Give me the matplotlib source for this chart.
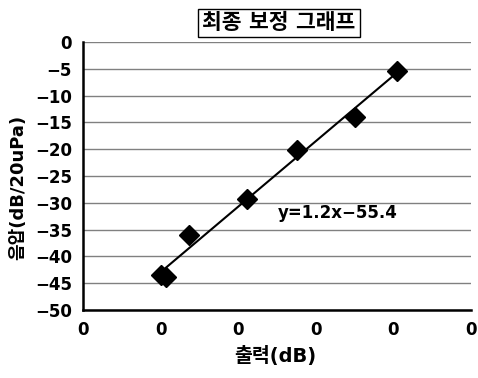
import matplotlib
matplotlib.use("Agg")
import matplotlib.pyplot as plt
import numpy as np

# data
out_db = [10.1, 10.7, 13.7, 21.1, 27.6, 35.1, 40.4]
spl_db = [-43.5, -43.9, -36.0, -29.3, -20.1, -13.9, -5.5]
x_ticks = [0, 10, 20, 30, 40, 50]
x_tick_labels = ["0"] * 6
y_ticks = list(range(-50, 1, 5))
eq_text = "y=1.2x\u221255.4"

plt.rcParams['font.family'] = ['DejaVu Sans', 'Noto Sans CJK KR']
plt.rcParams['font.weight'] = 'bold'

fig = plt.figure(figsize=(4.78, 3.78), dpi=100)
ax = fig.add_axes([83 / 478, 1 - 310 / 378, 388 / 478, 268 / 378])

# trendline from the points
k, b = np.polyfit(out_db, spl_db, 1)
xl = np.array([min(out_db), max(out_db)])
ax.plot(xl, k * xl + b, color='black', linewidth=1.5, zorder=3)
ax.plot(out_db, spl_db, linestyle='none', marker='D', markersize=10,
        color='black', zorder=4)

ax.set_xlim(0, 50)
ax.set_ylim(-50, 0)
ax.set_xticks(x_ticks)
ax.set_xticklabels(x_tick_labels)
ax.set_yticks(y_ticks)
ax.tick_params(length=0, labelsize=12, pad=8)
for lbl in ax.get_xticklabels() + ax.get_yticklabels():
    lbl.set_fontweight('bold')

ax.grid(axis='y', color='#808080', linewidth=1)
ax.set_axisbelow(True)
for s in ['top', 'right']:
    ax.spines[s].set_visible(False)
for s in ['left', 'bottom']:
    ax.spines[s].set_linewidth(1.8)

ax.text(25.1, -31.9, eq_text, fontsize=12, fontweight='bold', va='center', ha='left')

ax.set_xlabel('출력(dB)', fontsize=14, fontweight='bold')
ax.xaxis.set_label_coords(275 / 478, 1 - 346 / 378, transform=fig.transFigure)
ax.set_ylabel('음압(dB/20uPa)', fontsize=13, fontweight='bold')
ax.yaxis.set_label_coords(27 / 478, 1 - 187 / 378, transform=fig.transFigure)
fig.text(279 / 478, 1 - 23 / 378, '최종 보정 그래프', fontsize=15.5, fontweight='bold',
         ha='center', va='center',
         bbox=dict(boxstyle='square,pad=0.2', facecolor='white', edgecolor='black', linewidth=1))

fig.savefig('out.png', dpi=100)
